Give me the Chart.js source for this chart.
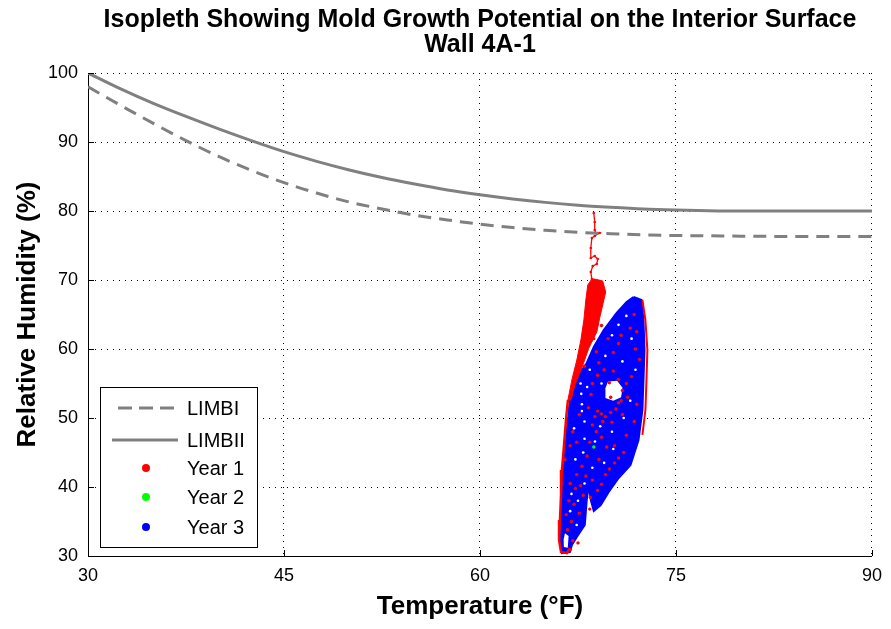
<!DOCTYPE html>
<html>
<head>
<meta charset="utf-8">
<title>Isopleth Wall 4A-1</title>
<script src="https://cdn.jsdelivr.net/npm/chart.js@4.4.1/dist/chart.umd.min.js"></script>
<style>
  html, body { margin: 0; padding: 0; background: #fff; }
  #chart { display: block; }
</style>
</head>
<body>
<canvas id="chart" width="891" height="629"></canvas>
<script>
const FONT = "'Liberation Sans', Arial, Helvetica, sans-serif";

const xTicks = [30, 45, 60, 75, 90];
const yTicks = [30, 40, 50, 60, 70, 80, 90, 100];

// isopleth curves (temperature °F -> RH %)
const limbTemps = [30, 32.5, 35, 37.5, 40, 42.5, 45, 47.5, 50, 52.5, 55, 57.5, 60, 62.5, 65, 67.5, 70, 72.5, 75, 77.5, 80, 85, 90];
const limbI = [98.0, 95.3, 92.7, 90.2, 87.9, 85.9, 84.1, 82.6, 81.3, 80.3, 79.4, 78.7, 78.1, 77.6, 77.2, 76.9, 76.7, 76.55, 76.45, 76.4, 76.35, 76.3, 76.3];
const limbII = [100, 97.7, 95.6, 93.7, 91.9, 90.2, 88.6, 87.2, 85.95, 84.85, 83.9, 83.05, 82.35, 81.75, 81.25, 80.85, 80.55, 80.3, 80.15, 80.05, 80.0, 80.0, 80.0];

// Year 3 cloud outline and the open patches inside it
const year3Outline = [
  [71.75, 67.54], [72.36, 67.1], [72.51, 64.2], [72.59, 59.86], [72.51, 55.5], [72.43, 51.16],
  [72.13, 46.8], [71.52, 43.19], [70.61, 41.3], [69.85, 39.28], [69.24, 37.39], [68.71, 36.52],
  [68.48, 38.12], [68.33, 40.29], [68.17, 38.12], [68.02, 34.49], [67.41, 32.75], [67.03, 31.59],
  [66.88, 30.58], [66.27, 30.43], [66.12, 32.32], [66.2, 35.22], [66.27, 39.57], [66.43, 43.19],
  [66.65, 48.26], [66.88, 52.6], [67.26, 55.5], [68.17, 57.97], [68.71, 60.29], [69.47, 62.75],
  [70.46, 65.22], [71.22, 66.81]
];
const year3Hole = [
  [69.8, 55.3], [70.5, 55.4], [70.9, 54.4], [70.8, 53.0], [70.2, 52.5], [69.6, 52.9], [69.6, 54.3]
];
const year3Tail = [
  [66.42, 31.3], [66.72, 31.2], [66.78, 32.9], [66.5, 33.3], [66.4, 32.4]
];
const year3Gaps = [
  [70.6, 63.5], [71.2, 64.8], [70.1, 62.0], [71.6, 61.5], [69.6, 59.0], [70.9, 58.2], [71.9, 57.0],
  [68.4, 57.0], [69.3, 55.0], [68.2, 54.5], [68.0, 49.5], [69.2, 48.8], [70.1, 48.0],
  [68.8, 46.6], [67.9, 45.0], [69.5, 43.5], [68.6, 42.8], [67.3, 44.0], [67.0, 39.0], [67.5, 38.0],
  [68.0, 40.5], [66.9, 36.5], [67.4, 34.5], [71.0, 50.0], [71.5, 52.5], [70.2, 45.5], [68.0, 47.0],
  [67.2, 48.5], [67.7, 55.0], [67.75, 53.5], [67.8, 52.0], [67.8, 51.0]
];

// Year 1 trace
const year1Band = [
  [68.78, 70.14], [69.39, 69.86], [69.62, 68.26], [69.39, 66.38], [69.16, 64.49], [68.94, 62.46],
  [68.33, 60.14], [67.79, 57.25], [67.26, 54.78], [66.96, 52.61], [66.73, 52.61], [67.03, 55.51],
  [67.41, 58.41], [67.72, 61.3], [67.95, 64.2], [68.1, 67.1], [68.25, 69.28], [68.56, 70.14]
];
const year1Spike = [
  [68.71, 79.71], [68.78, 78.41], [68.78, 77.25], [68.86, 76.81], [69.16, 76.81], [68.78, 76.38],
  [68.56, 76.09], [68.48, 74.64], [68.48, 73.19], [68.78, 73.48], [69.01, 73.04], [68.94, 72.32],
  [68.63, 72.03], [68.48, 71.16], [68.56, 70.14]
];
const year1LeftEdge = [
  [66.73, 52.61], [66.58, 49.71], [66.43, 46.09], [66.27, 42.46], [66.2, 38.84], [66.12, 35.22],
  [66.05, 32.32], [66.2, 30.58], [66.65, 30.43], [66.88, 31.16]
];
const year1RightEdge = [
  [72.43, 67.1], [72.66, 64.2], [72.81, 59.86], [72.74, 55.5], [72.66, 51.16], [72.43, 47.54]
];
const year1Dots = [
  [69.0, 51.0], [69.3, 50.6], [69.6, 50.2], [70.0, 50.8], [70.4, 51.3], [70.8, 52.5], [70.9, 54.0],
  [70.6, 55.6], [70.2, 56.8], [69.5, 57.0], [69.0, 56.2], [68.6, 55.0], [68.5, 53.4],
  [68.6, 49.0], [68.9, 48.0], [69.3, 47.2], [68.4, 46.5], [69.7, 45.8], [68.2, 44.5], [69.1, 44.0],
  [70.3, 46.0], [71.2, 47.5], [71.8, 49.5], [72.0, 52.0], [71.6, 56.0], [71.9, 60.0], [71.5, 63.0],
  [70.8, 62.0], [70.2, 59.5], [67.2, 37.5], [67.6, 36.2], [67.0, 35.0], [67.9, 38.8], [68.4, 36.8],
  [66.9, 40.5], [67.4, 41.8], [67.8, 43.0], [69.0, 39.5], [69.6, 41.8], [70.3, 43.5], [66.7, 33.8],
  [67.1, 32.2], [68.0, 57.5], [68.9, 59.6], [69.8, 61.5], [67.6, 50.5], [67.4, 46.5],
  [66.6, 36.0], [66.8, 38.0], [67.3, 39.8], [67.7, 40.2], [68.1, 41.6], [68.6, 41.0], [69.3, 40.4],
  [69.9, 42.6], [70.6, 44.2], [71.0, 45.0], [66.5, 44.0], [66.9, 46.0], [67.1, 48.0], [68.3, 51.5],
  [68.8, 50.2], [69.4, 49.5], [70.1, 49.4], [70.9, 50.5], [71.3, 53.0], [71.2, 55.0], [72.2, 58.5],
  [72.0, 62.5], [71.8, 65.0], [70.6, 60.8], [69.1, 58.0], [68.7, 61.5], [69.3, 63.4], [68.45, 38.5],
  [67.5, 31.9], [66.9, 30.9], [70.0, 53.0], [69.9, 55.1], [70.6, 52.2]
];
const year2Dots = [[68.71, 45.8]];

const legendItems = [
  { label: "LIMBI", kind: "dash", color: "#808080" },
  { label: "LIMBII", kind: "line", color: "#808080" },
  { label: "Year 1", kind: "dot", color: "#ff0000" },
  { label: "Year 2", kind: "dot", color: "#00ff00" },
  { label: "Year 3", kind: "dot", color: "#0000ff" }
];
const legendRows = [21, 53, 81, 110, 140];

function toPoints(pairs) {
  return pairs.map(([x, y]) => ({ x, y }));
}

function closedShape(pairs) {
  return toPoints(pairs.concat([pairs[0]]));
}

const innerTicks = {
  id: "innerTicks",
  afterDatasetsDraw(chart) {
    const { ctx, chartArea: a, scales: { x, y } } = chart;
    ctx.save();
    ctx.strokeStyle = "#000";
    ctx.lineWidth = 1;
    ctx.beginPath();
    xTicks.forEach((v) => {
      const px = Math.round(x.getPixelForValue(v)) + 0.5;
      ctx.moveTo(px, a.bottom);
      ctx.lineTo(px, a.bottom - 6);
    });
    yTicks.forEach((v) => {
      const py = Math.round(y.getPixelForValue(v)) + 0.5;
      ctx.moveTo(a.left, py);
      ctx.lineTo(a.left + 6, py);
    });
    ctx.stroke();
    ctx.restore();
  }
};

// MATLAB-style boxed legend inside the lower-left corner
const boxLegend = {
  id: "boxLegend",
  afterDraw(chart) {
    const { ctx, chartArea: a } = chart;
    const left = a.left + 12;
    const top = a.bottom - 169;
    const w = 157;
    const h = 160;
    ctx.save();
    ctx.fillStyle = "#fff";
    ctx.fillRect(left, top, w, h);
    ctx.strokeStyle = "#000";
    ctx.lineWidth = 1;
    ctx.strokeRect(left + 0.5, top + 0.5, w, h);

    ctx.font = "20px " + FONT;
    ctx.textBaseline = "middle";
    legendItems.forEach((item, i) => {
      const yy = top + legendRows[i];
      if (item.kind === "dot") {
        ctx.fillStyle = item.color;
        ctx.beginPath();
        ctx.arc(left + 46, yy, 4, 0, Math.PI * 2);
        ctx.fill();
      } else {
        ctx.strokeStyle = item.color;
        ctx.lineWidth = 3;
        ctx.setLineDash(item.kind === "dash" ? [14, 7] : []);
        ctx.beginPath();
        ctx.moveTo(left + (item.kind === "dash" ? 18 : 12), yy);
        ctx.lineTo(left + 78, yy);
        ctx.stroke();
        ctx.setLineDash([]);
      }
      ctx.fillStyle = "#000";
      ctx.fillText(item.label, left + 87, yy + 1);
    });
    ctx.restore();
  }
};

const ctx = document.getElementById("chart");

new Chart(ctx, {
  type: "scatter",
  data: {
    datasets: [
      {
        label: "LIMBI",
        data: toPoints(limbTemps.map((t, i) => [t, limbI[i]])),
        showLine: true,
        borderColor: "#808080",
        borderWidth: 3,
        borderDash: [13, 8],
        pointRadius: 0,
        cubicInterpolationMode: "monotone",
        order: 1
      },
      {
        label: "LIMBII",
        data: toPoints(limbTemps.map((t, i) => [t, limbII[i]])),
        showLine: true,
        borderColor: "#808080",
        borderWidth: 3,
        pointRadius: 0,
        cubicInterpolationMode: "monotone",
        order: 2
      },
      {
        label: "Year 2",
        data: toPoints(year2Dots),
        pointRadius: 1.7,
        pointBorderWidth: 0,
        backgroundColor: "#00ff00",
        order: 3
      },
      {
        label: "Year 1",
        data: toPoints(year1Dots),
        pointRadius: 1.7,
        pointBorderWidth: 0,
        backgroundColor: "#ff0000",
        order: 4
      },
      {
        label: "Year 1 spike",
        data: toPoints(year1Spike),
        showLine: true,
        borderColor: "#ff0000",
        borderWidth: 1.3,
        pointRadius: 1.3,
        pointBorderWidth: 0,
        backgroundColor: "#ff0000",
        order: 5
      },
      {
        label: "Year 1 left",
        data: toPoints(year1LeftEdge),
        showLine: true,
        borderColor: "#ff0000",
        borderWidth: 2.5,
        pointRadius: 0,
        order: 5
      },
      {
        label: "Year 1 right",
        data: toPoints(year1RightEdge),
        showLine: true,
        borderColor: "#ff0000",
        borderWidth: 2,
        pointRadius: 0,
        order: 5
      },
      {
        label: "Year 1 band",
        data: closedShape(year1Band),
        showLine: true,
        fill: "shape",
        borderColor: "#ff0000",
        backgroundColor: "#ff0000",
        borderWidth: 1,
        pointRadius: 0,
        order: 6
      },
      {
        label: "Year 3 specks",
        data: toPoints(year3Gaps),
        pointRadius: 1.3,
        pointBorderWidth: 0,
        backgroundColor: "#ffffff",
        order: 7
      },
      {
        label: "Year 3 gap",
        data: closedShape(year3Hole),
        showLine: true,
        fill: "shape",
        borderColor: "#ffffff",
        backgroundColor: "#ffffff",
        borderWidth: 0,
        pointRadius: 0,
        order: 7
      },
      {
        label: "Year 3 tail",
        data: closedShape(year3Tail),
        showLine: true,
        fill: "shape",
        borderColor: "#ffffff",
        backgroundColor: "#ffffff",
        borderWidth: 0,
        pointRadius: 0,
        order: 7
      },
      {
        label: "Year 3",
        data: closedShape(year3Outline),
        showLine: true,
        fill: "shape",
        borderColor: "#0000ff",
        backgroundColor: "#0000ff",
        borderWidth: 2,
        pointRadius: 0,
        order: 8
      }
    ]
  },
  options: {
    responsive: false,
    animation: false,
    layout: { padding: { left: 0, right: 14, top: 0, bottom: 0 } },
    plugins: {
      legend: { display: false },
      tooltip: { enabled: false },
      title: {
        display: true,
        fullSize: false,
        text: ["Isopleth Showing Mold Growth Potential on the Interior Surface", "Wall 4A-1"],
        color: "#000",
        font: { family: FONT, size: 25, weight: "bold", lineHeight: 1.0 },
        padding: { top: 8, bottom: 15 }
      }
    },
    scales: {
      x: {
        type: "linear",
        min: 30,
        max: 90,
        afterFit: (scale) => { scale.height = 73; },
        afterBuildTicks: (scale) => { scale.ticks = xTicks.map((v) => ({ value: v })); },
        ticks: { color: "#000", padding: 9, font: { family: FONT, size: 18 } },
        grid: { color: "#000", lineWidth: 1, drawTicks: false },
        border: { display: true, color: "#000", width: 1, dash: [1, 5] },
        title: {
          display: true,
          text: "Temperature (°F)",
          color: "#000",
          font: { family: FONT, size: 26, weight: "bold", lineHeight: 1.2 },
          padding: { top: 0, bottom: 7 }
        }
      },
      y: {
        type: "linear",
        min: 30,
        max: 100,
        afterFit: (scale) => { scale.width = 88; },
        afterBuildTicks: (scale) => { scale.ticks = yTicks.map((v) => ({ value: v })); },
        ticks: { color: "#000", padding: 10, font: { family: FONT, size: 18 } },
        grid: { color: "#000", lineWidth: 1, drawTicks: false },
        border: { display: true, color: "#000", width: 1, dash: [1, 5] },
        title: {
          display: true,
          text: "Relative Humidity (%)",
          color: "#000",
          font: { family: FONT, size: 26, weight: "bold", lineHeight: 1.2 },
          padding: { top: 12, bottom: 0 }
        }
      }
    }
  },
  plugins: [innerTicks, boxLegend]
});
</script>
</body>
</html>
